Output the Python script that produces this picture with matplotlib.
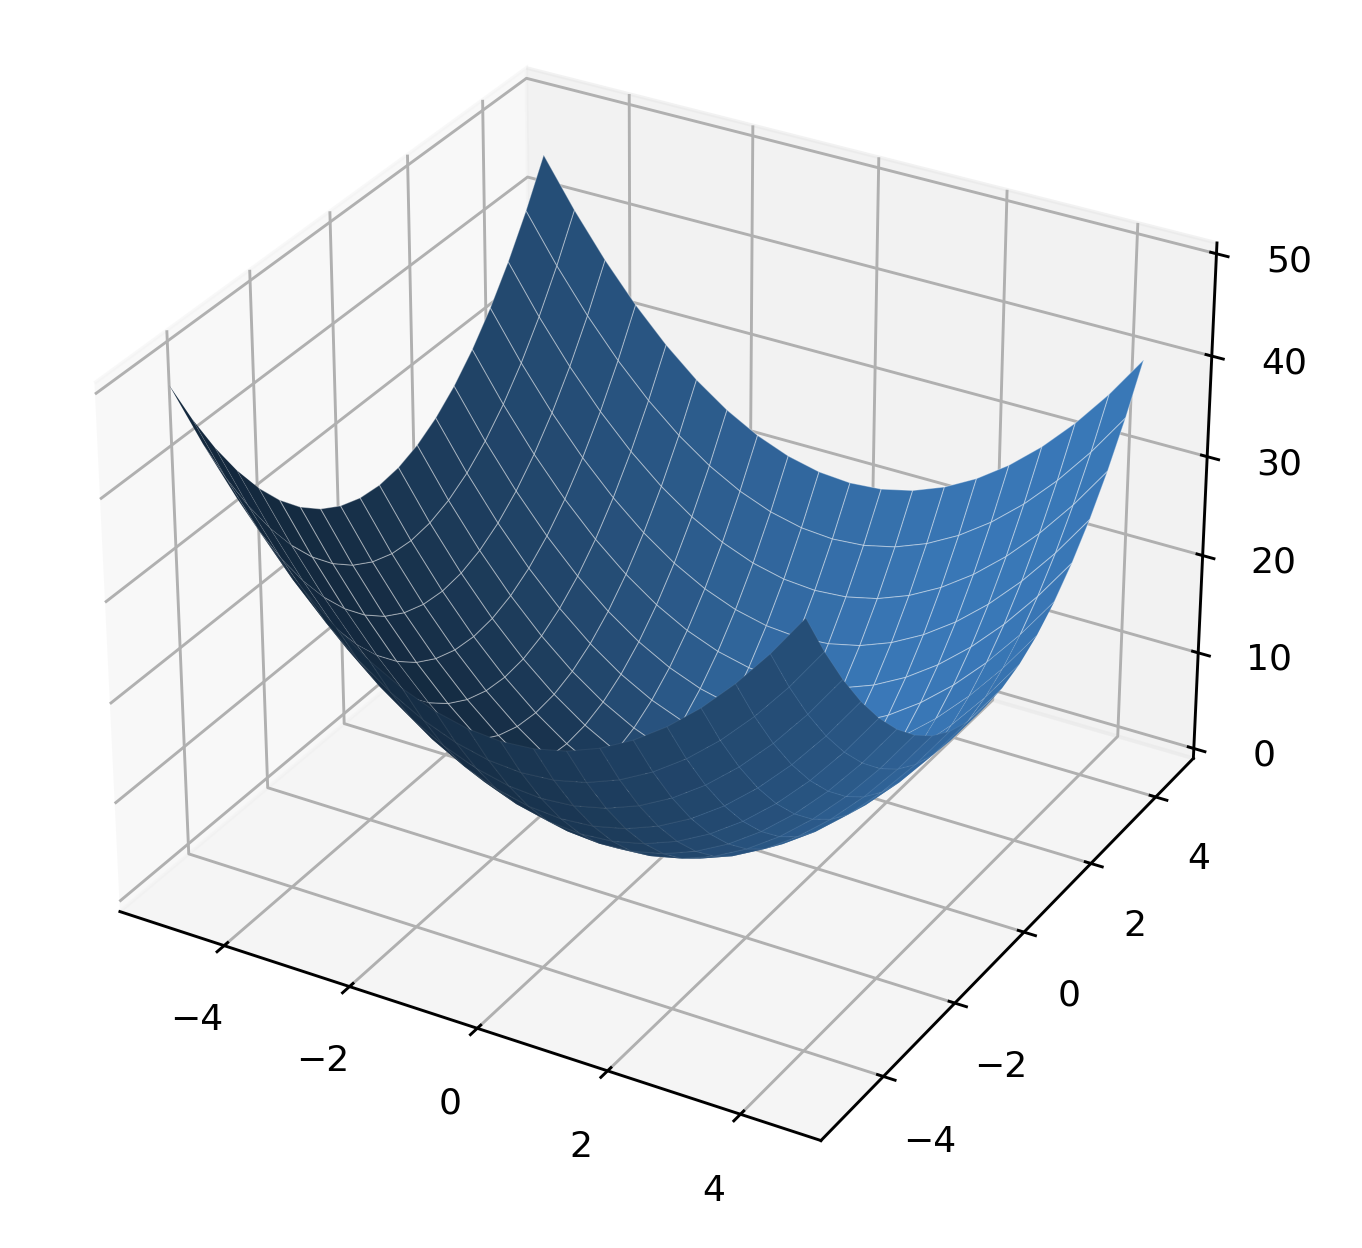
import numpy as np
import matplotlib
matplotlib.use("Agg")
import matplotlib.pyplot as plt

# grid of the bowl (stops at 4.5, the far corners sit lower)
x_vals = [-5.0, -4.5, -4.0, -3.5, -3.0, -2.5, -2.0, -1.5, -1.0, -0.5, 0.0, 0.5, 1.0, 1.5, 2.0, 2.5, 3.0, 3.5, 4.0, 4.5]
y_vals = [-5.0, -4.5, -4.0, -3.5, -3.0, -2.5, -2.0, -1.5, -1.0, -0.5, 0.0, 0.5, 1.0, 1.5, 2.0, 2.5, 3.0, 3.5, 4.0, 4.5]
z_vals = [
    [50.0, 45.25, 41.0, 37.25, 34.0, 31.25, 29.0, 27.25, 26.0, 25.25, 25.0, 25.25, 26.0, 27.25, 29.0, 31.25, 34.0, 37.25, 41.0, 45.25],
    [45.25, 40.5, 36.25, 32.5, 29.25, 26.5, 24.25, 22.5, 21.25, 20.5, 20.25, 20.5, 21.25, 22.5, 24.25, 26.5, 29.25, 32.5, 36.25, 40.5],
    [41.0, 36.25, 32.0, 28.25, 25.0, 22.25, 20.0, 18.25, 17.0, 16.25, 16.0, 16.25, 17.0, 18.25, 20.0, 22.25, 25.0, 28.25, 32.0, 36.25],
    [37.25, 32.5, 28.25, 24.5, 21.25, 18.5, 16.25, 14.5, 13.25, 12.5, 12.25, 12.5, 13.25, 14.5, 16.25, 18.5, 21.25, 24.5, 28.25, 32.5],
    [34.0, 29.25, 25.0, 21.25, 18.0, 15.25, 13.0, 11.25, 10.0, 9.25, 9.0, 9.25, 10.0, 11.25, 13.0, 15.25, 18.0, 21.25, 25.0, 29.25],
    [31.25, 26.5, 22.25, 18.5, 15.25, 12.5, 10.25, 8.5, 7.25, 6.5, 6.25, 6.5, 7.25, 8.5, 10.25, 12.5, 15.25, 18.5, 22.25, 26.5],
    [29.0, 24.25, 20.0, 16.25, 13.0, 10.25, 8.0, 6.25, 5.0, 4.25, 4.0, 4.25, 5.0, 6.25, 8.0, 10.25, 13.0, 16.25, 20.0, 24.25],
    [27.25, 22.5, 18.25, 14.5, 11.25, 8.5, 6.25, 4.5, 3.25, 2.5, 2.25, 2.5, 3.25, 4.5, 6.25, 8.5, 11.25, 14.5, 18.25, 22.5],
    [26.0, 21.25, 17.0, 13.25, 10.0, 7.25, 5.0, 3.25, 2.0, 1.25, 1.0, 1.25, 2.0, 3.25, 5.0, 7.25, 10.0, 13.25, 17.0, 21.25],
    [25.25, 20.5, 16.25, 12.5, 9.25, 6.5, 4.25, 2.5, 1.25, 0.5, 0.25, 0.5, 1.25, 2.5, 4.25, 6.5, 9.25, 12.5, 16.25, 20.5],
    [25.0, 20.25, 16.0, 12.25, 9.0, 6.25, 4.0, 2.25, 1.0, 0.25, 0.0, 0.25, 1.0, 2.25, 4.0, 6.25, 9.0, 12.25, 16.0, 20.25],
    [25.25, 20.5, 16.25, 12.5, 9.25, 6.5, 4.25, 2.5, 1.25, 0.5, 0.25, 0.5, 1.25, 2.5, 4.25, 6.5, 9.25, 12.5, 16.25, 20.5],
    [26.0, 21.25, 17.0, 13.25, 10.0, 7.25, 5.0, 3.25, 2.0, 1.25, 1.0, 1.25, 2.0, 3.25, 5.0, 7.25, 10.0, 13.25, 17.0, 21.25],
    [27.25, 22.5, 18.25, 14.5, 11.25, 8.5, 6.25, 4.5, 3.25, 2.5, 2.25, 2.5, 3.25, 4.5, 6.25, 8.5, 11.25, 14.5, 18.25, 22.5],
    [29.0, 24.25, 20.0, 16.25, 13.0, 10.25, 8.0, 6.25, 5.0, 4.25, 4.0, 4.25, 5.0, 6.25, 8.0, 10.25, 13.0, 16.25, 20.0, 24.25],
    [31.25, 26.5, 22.25, 18.5, 15.25, 12.5, 10.25, 8.5, 7.25, 6.5, 6.25, 6.5, 7.25, 8.5, 10.25, 12.5, 15.25, 18.5, 22.25, 26.5],
    [34.0, 29.25, 25.0, 21.25, 18.0, 15.25, 13.0, 11.25, 10.0, 9.25, 9.0, 9.25, 10.0, 11.25, 13.0, 15.25, 18.0, 21.25, 25.0, 29.25],
    [37.25, 32.5, 28.25, 24.5, 21.25, 18.5, 16.25, 14.5, 13.25, 12.5, 12.25, 12.5, 13.25, 14.5, 16.25, 18.5, 21.25, 24.5, 28.25, 32.5],
    [41.0, 36.25, 32.0, 28.25, 25.0, 22.25, 20.0, 18.25, 17.0, 16.25, 16.0, 16.25, 17.0, 18.25, 20.0, 22.25, 25.0, 28.25, 32.0, 36.25],
    [45.25, 40.5, 36.25, 32.5, 29.25, 26.5, 24.25, 22.5, 21.25, 20.5, 20.25, 20.5, 21.25, 22.5, 24.25, 26.5, 29.25, 32.5, 36.25, 40.5],
]

X, Y = np.meshgrid(x_vals, y_vals)
Z = np.array(z_vals)

dpi = 260
fig = plt.figure(figsize=(1362 / dpi, 1248 / dpi), dpi=dpi)
ax = fig.add_axes([-0.023, 0.023, 1.0, 1.0], projection='3d')
surf = ax.plot_surface(X, Y, Z, rcount=20, ccount=20, color='#3a79b9', edgecolor=(1, 1, 1, 0.3), linewidth=0.3)

# seams show on the inside of the bowl, hardly at all on the outer flap
edge_colors = []
for i in range(len(y_vals) - 1):
    for j in range(len(x_vals) - 1):
        xc = (x_vals[j] + x_vals[j + 1]) / 2
        yc = (y_vals[i] + y_vals[i + 1]) / 2
        outer = -0.866 * xc + 1.5 * yc + 0.5 < 0
        edge_colors.append((1, 1, 1, 0.06) if outer else (1, 1, 1, 0.36))
surf.set_edgecolors(edge_colors)

ax.set_xticks([-4, -2, 0, 2, 4])
ax.set_yticks([-4, -2, 0, 2, 4])
ax.set_zticks([0, 10, 20, 30, 40, 50])
ax.tick_params(axis='z', pad=4.2)

fig.savefig('out.png', dpi=dpi)
